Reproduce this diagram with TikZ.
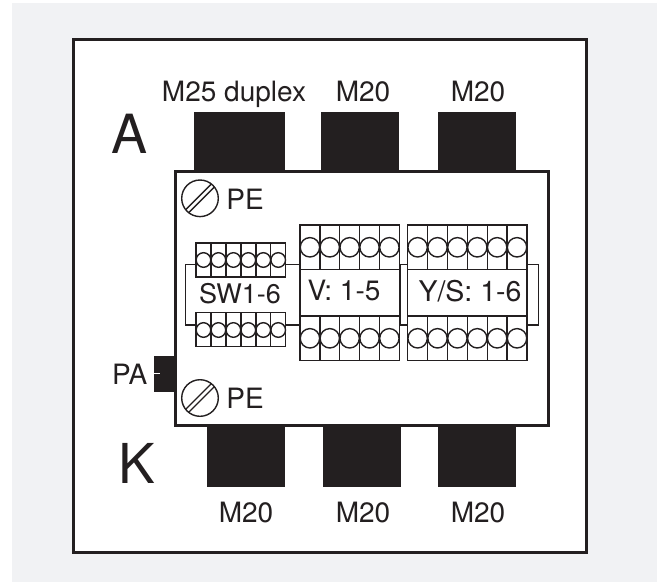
\documentclass[tikz,border=0pt]{standalone}
\usepackage{fontspec}
\setmainfont{TeX Gyre Heros}
\definecolor{ink}{HTML}{231F20}
\definecolor{bgrey}{HTML}{F1F2F4}
\tikzset{
  x=1pt,y=-1pt,
  heavy/.style={draw=ink,line width=3pt,fill=white},
  solid block/.style={fill=ink,draw=none},
  cellline/.style={draw=ink,line width=1.4pt},
  link/.style={draw=ink,line width=1.4pt},
  lbl/.style={inner sep=0pt,outer sep=0pt,text=ink,anchor=base},
}
\newcommand{\tblock}[7]{% x0,y0,cellw,n,h,cy,r
  \foreach \i in {1,...,#4}{
    \draw[cellline] ({#1+(\i-1)*#3},#2) rectangle ({#1+\i*#3},{#2+#5});
    \draw[cellline] ({#1+(\i-.5)*#3},#6) circle[radius=#7];
  }
}
\newcommand{\screw}[2]{%
  \draw[line width=1.4pt,draw=ink] (#1,#2) circle[radius=18.3];
  \draw[line width=1.4pt,draw=ink] ({#1-1.5-12.86},{#2-1.5+12.86}) -- ({#1-1.5+12.86},{#2-1.5-12.86});
  \draw[line width=1.4pt,draw=ink] ({#1+1.5-12.86},{#2+1.5+12.86}) -- ({#1+1.5+12.86},{#2+1.5-12.86});
}
\begin{document}
\begin{tikzpicture}
\useasboundingbox (0,0) rectangle (657,582);
\fill[bgrey] (12,3) rectangle (657,582);
\draw[heavy] (73.7,39) rectangle (586.3,552.3);
% glands
\fill[solid block] (194.3,112) rectangle (285.3,171);
\fill[solid block] (321,112) rectangle (399.3,171);
\fill[solid block] (438,112) rectangle (516.3,171);
\fill[solid block] (207,425) rectangle (285.3,487.3);
\fill[solid block] (323,425) rectangle (401.3,487.3);
\fill[solid block] (438,425) rectangle (516.3,487.3);
\fill[solid block] (154,356) rectangle (175,391.7);
\draw[white,line width=1.4pt] (154,373.3) -- (160,373.3);
\draw[heavy] (175,171) rectangle (548.3,425.7);
% links
\coordinate (lt) at (196,264.3);
\coordinate (lb) at (196,325);
\draw[link] (lt) -- (185.7,264.3) -- (185.7,325) -- (lb);
\draw[link] (285.7,264.3) -- (300,264.3);
\draw[link] (285.7,325) -- (300,325);
\draw[link] (400,264.3) rectangle (407.7,325);
\draw[link] (527,264.3) -- (538.7,264.3) -- (538.7,325) -- (527,325);
\draw[link] (300,269) -- (300,316);
\draw[link] (399.3,269) -- (399.3,316);
\draw[link] (407.7,269) -- (407.7,316);
\draw[link] (527,269) -- (527,316);
% terminals
\tblock{196}{243}{14.95}{6}{34}{260}{7.3}
\tblock{196}{312.7}{14.95}{6}{34}{330}{7.3}
\tblock{300}{225}{19.86}{5}{44.3}{247.3}{9.7}
\tblock{300}{316}{19.86}{5}{44.3}{338.3}{9.7}
\tblock{407.7}{225}{19.88}{6}{44.3}{247.3}{9.7}
\tblock{407.7}{316}{19.88}{6}{44.3}{338.3}{9.7}
\screw{200}{198.3}
\screw{200}{398}
% labels
\node[lbl,font=\fontsize{28}{28}\selectfont] (m25) at (234,101.5) {M25 duplex};
\node[lbl,font=\fontsize{28}{28}\selectfont] (m20a) at (363,101.5) {M20};
\node[lbl,font=\fontsize{28}{28}\selectfont] (m20b) at (478,101.5) {M20};
\node[lbl,font=\fontsize{28}{28}\selectfont] (m20c) at (246,522.5) {M20};
\node[lbl,font=\fontsize{28}{28}\selectfont] (m20d) at (363,522.5) {M20};
\node[lbl,font=\fontsize{28}{28}\selectfont] (m20e) at (478,522.5) {M20};
\node[lbl,font=\fontsize{54}{54}\selectfont] (a) at (130,153) {A};
\node[lbl,font=\fontsize{55}{55}\selectfont] (k) at (137,483) {K};
\node[lbl,font=\fontsize{28}{28}\selectfont] (pa) at (129.7,384.3) {PA};
\node[lbl,font=\fontsize{28}{28}\selectfont] (pe1) at (245,209.3) {PE};
\node[lbl,font=\fontsize{28}{28}\selectfont] (pe2) at (245,408.3) {PE};
\node[lbl,font=\fontsize{27}{27}\selectfont] (sw) at (240,303.3) {SW1-6};
\node[lbl,font=\fontsize{28}{28}\selectfont] (v) at (344,300.7) {V: 1-5};
\node[lbl,font=\fontsize{28.5}{28.5}\selectfont] (ys) at (470,301) {Y/S: 1-6};
\end{tikzpicture}
\end{document}
